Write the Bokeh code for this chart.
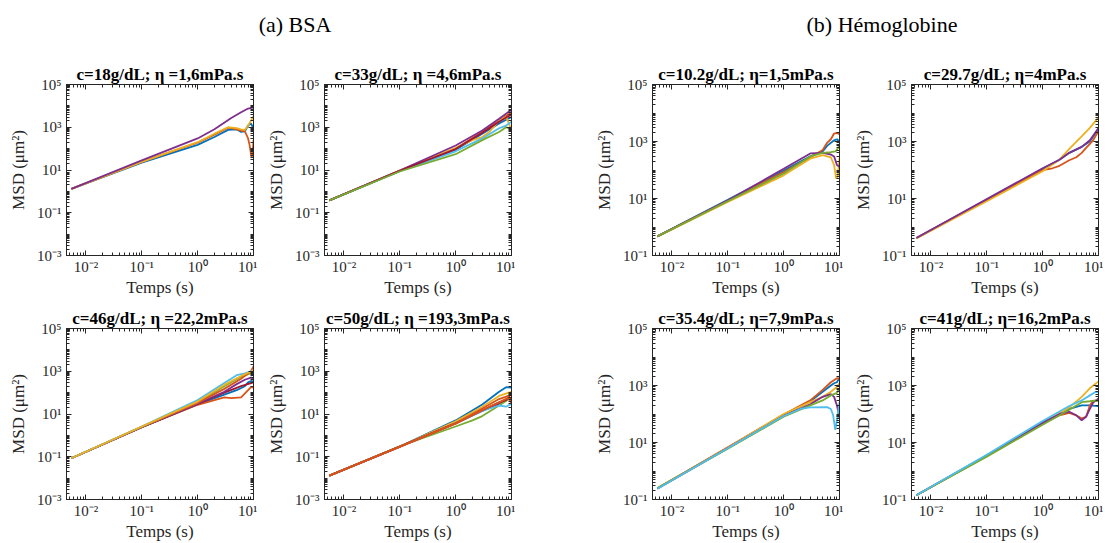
from bokeh.plotting import figure
from bokeh.layouts import column, row
from bokeh.models import Div, FixedTicker, LogAxis, CustomJSTickFormatter, Range1d
from bokeh.embed import file_html
from bokeh.resources import INLINE

# ---------------- data ----------------
COLORS = dict(blue="#0072BD", orange="#D95319", yellow="#EDB120", purple="#7E2F8E",
              green="#77AC30", cyan="#4DBEEE", red="#A2142F")

T0 = 0.0055  # first lag time (s)

header_left = "(a) BSA"
header_right = "(b) Hémoglobine"

titles = {
    "bsa18": "c=18g/dL; η =1,6mPa.s",
    "bsa33": "c=33g/dL; η =4,6mPa.s",
    "bsa46": "c=46g/dL; η =22,2mPa.s",
    "bsa50": "c=50g/dL; η =193,3mPa.s",
    "hb10": "c=10.2g/dL; η=1,5mPa.s",
    "hb29": "c=29.7g/dL; η=4mPa.s",
    "hb35": "c=35.4g/dL; η=7,9mPa.s",
    "hb41": "c=41g/dL; η=16,2mPa.s",
}

x_label = "Temps (s)"
y_label = "MSD (μm²)"

X_MAJOR = [1e-2, 1e-1, 1e0, 1e1]
Y_MAJOR_BSA = [1e-3, 1e-1, 1e1, 1e3, 1e5]
Y_MAJOR_HB = [1e-1, 1e1, 1e3, 1e5]

# BSA c=18 g/dL
bsa18 = [
    ("blue",   [T0, 0.1, 1, 2, 3.5, 5, 6, 7, 8, 9, 10],
               [1.3, 22, 150, 350, 750, 800, 600, 650, 1200, 1500, 900]),
    ("orange", [T0, 0.1, 1, 2, 3.5, 5, 6, 7, 8, 8.5, 9.2, 9.6, 10],
               [1.3, 24, 190, 450, 950, 800, 700, 650, 300, 150, 40, 50, 250]),
    ("yellow", [T0, 0.1, 1, 2, 3.5, 5, 6, 7, 8, 9, 10],
               [1.3, 24, 200, 500, 1000, 900, 800, 750, 1200, 2000, 3300]),
    ("purple", [T0, 0.1, 1, 2, 4, 6, 8, 10],
               [1.3, 28, 300, 800, 2700, 5000, 7500, 8500]),
]

# BSA c=33 g/dL
bsa33 = [
    ("blue",   [T0, 0.1, 1, 3, 6, 10], [0.38, 9, 90, 500, 1500, 3000]),
    ("orange", [T0, 0.1, 1, 3, 6, 10], [0.38, 9.3, 100, 600, 2000, 5000]),
    ("yellow", [T0, 0.1, 1, 2, 3, 4, 6, 8, 9, 10],
               [0.38, 9.5, 110, 250, 350, 600, 2000, 3000, 1500, 700]),
    ("purple", [T0, 0.1, 1, 3, 6, 10], [0.38, 9.5, 140, 700, 2500, 6500]),
    ("cyan",   [T0, 0.1, 1, 3, 6, 8, 10], [0.38, 8.8, 75, 300, 900, 1200, 1800]),
    ("red",    [T0, 0.1, 1, 3, 6, 10], [0.38, 9.2, 95, 550, 1800, 4000]),
    ("green",  [T0, 0.1, 1, 3, 6, 8, 10], [0.38, 8.5, 55, 250, 600, 1000, 800]),
]

# BSA c=46 g/dL
bsa46 = [
    ("blue",   [T0, 0.1, 1, 3, 5, 7, 8, 9, 10], [0.085, 2.4, 28, 80, 130, 200, 300, 350, 330]),
    ("orange", [T0, 0.1, 1, 2, 3, 4, 6, 8, 9, 10], [0.085, 2.4, 27, 45, 60, 55, 60, 130, 180, 170]),
    ("red",    [T0, 0.1, 1, 3, 6, 10], [0.085, 2.4, 30, 100, 200, 300]),
    ("purple", [T0, 0.1, 1, 3, 5, 7, 9, 10], [0.085, 2.4, 30, 110, 250, 400, 500, 450]),
    ("green",  [T0, 0.1, 1, 3, 6, 10], [0.085, 2.5, 35, 200, 550, 900]),
    ("orange", [T0, 0.1, 1, 3, 6, 9, 10], [0.085, 2.5, 33, 150, 450, 1000, 1700]),
    ("cyan",   [T0, 0.1, 1, 3, 5, 7, 10], [0.085, 2.6, 45, 280, 650, 800, 1100]),
    ("yellow", [T0, 0.1, 1, 3, 6, 10], [0.085, 2.6, 38, 230, 600, 1100]),
]

# BSA c=50 g/dL
bsa50 = [
    ("blue",   [T0, 0.1, 1, 3, 6, 8, 10], [0.013, 0.3, 5, 28, 110, 180, 170]),
    ("yellow", [T0, 0.1, 1, 3, 6, 10], [0.013, 0.3, 4.5, 22, 70, 110]),
    ("purple", [T0, 0.1, 1, 3, 6, 9, 10], [0.013, 0.3, 3.8, 14, 30, 50, 45]),
    ("green",  [T0, 0.1, 1, 2, 3, 6, 9, 10], [0.013, 0.31, 2.6, 5, 8, 25, 50, 60]),
    ("cyan",   [T0, 0.1, 1, 3, 6, 8, 10], [0.013, 0.3, 3.5, 14, 25, 22, 30]),
    ("red",    [T0, 0.1, 1, 3, 6, 8, 9, 10], [0.013, 0.3, 3.6, 15, 35, 45, 65, 50]),
    ("orange", [T0, 0.1, 1, 3, 6, 9, 10], [0.013, 0.29, 3.5, 15, 35, 60, 30]),
    ("orange", [T0, 0.1, 1, 3, 6, 10], [0.013, 0.3, 3.7, 18, 50, 80]),
]

# Hemoglobin c=10.2 g/dL
hb10 = [
    ("blue",   [T0, 0.1, 1, 3, 5, 6, 8, 9, 10], [0.47, 9, 95, 300, 450, 700, 1100, 1200, 1000]),
    ("orange", [T0, 0.1, 1, 3, 5, 6, 7, 8, 9, 10], [0.47, 8.5, 85, 280, 500, 900, 1200, 1900, 2000, 1800]),
    ("yellow", [T0, 0.1, 1, 3, 5, 7, 8, 8.7, 9.3, 10], [0.46, 7.5, 65, 250, 330, 280, 150, 50, 60, 260]),
    ("purple", [T0, 0.1, 1, 3, 5, 7, 8, 9, 10], [0.47, 8.5, 110, 380, 400, 350, 300, 150, 130]),
    ("green",  [T0, 0.1, 1, 3, 5, 7, 8.5, 9.5, 10], [0.47, 8, 75, 300, 400, 420, 450, 600, 800]),
]

# Hemoglobin c=29.7 g/dL
hb29 = [
    ("blue",   [T0, 0.1, 1, 2, 3, 5, 7, 10], [0.41, 9, 110, 230, 400, 650, 1000, 2800]),
    ("orange", [T0, 0.1, 1, 1.5, 2, 3, 4, 5, 6, 8, 10],
               [0.41, 9, 100, 115, 140, 220, 280, 400, 600, 1100, 2300]),
    ("yellow", [T0, 0.1, 1, 2, 3, 5, 7, 10], [0.40, 8, 90, 230, 550, 1500, 3000, 7000]),
    ("purple", [T0, 0.1, 1, 2, 3, 5, 7, 10], [0.41, 9.5, 115, 230, 400, 650, 1100, 3000]),
]

# Hemoglobin c=35.4 g/dL
hb35 = [
    ("blue",   [T0, 0.1, 1, 3, 5, 7, 8, 9, 10], [0.25, 6.5, 90, 280, 600, 1000, 1200, 1300, 1900]),
    ("orange", [T0, 0.1, 1, 3, 5, 7, 9, 10], [0.25, 6.8, 95, 300, 700, 1300, 1800, 1700]),
    ("yellow", [T0, 0.1, 1, 3, 5, 7, 9, 10], [0.25, 6.5, 100, 260, 400, 600, 900, 1200]),
    ("purple", [T0, 0.1, 1, 3, 5, 7, 8, 9, 10], [0.24, 6.3, 85, 220, 400, 500, 400, 200, 70]),
    ("green",  [T0, 0.1, 1, 3, 5, 7, 9, 10], [0.25, 6, 80, 200, 300, 450, 550, 800]),
    ("cyan",   [T0, 0.1, 1, 2, 3, 6, 7, 7.7, 8.4, 9, 10],
               [0.24, 6.3, 85, 150, 170, 175, 150, 90, 28, 60, 260]),
]

# Hemoglobin c=41 g/dL
hb41 = [
    ("blue",   [T0, 0.1, 1, 3, 5, 7, 10], [0.14, 3.5, 50, 150, 200, 200, 190]),
    ("orange", [T0, 0.1, 1, 2, 3, 4, 5, 6, 7, 8, 10], [0.14, 3.4, 45, 90, 110, 90, 70, 80, 200, 280, 300]),
    ("yellow", [T0, 0.1, 1, 3, 5, 7, 10], [0.14, 3.3, 45, 170, 400, 800, 1400]),
    ("purple", [T0, 0.1, 1, 2, 3, 4, 5, 6, 7, 8, 10], [0.14, 3.5, 48, 100, 120, 90, 60, 80, 150, 250, 350]),
    ("green",  [T0, 0.1, 1, 3, 5, 7, 9, 10], [0.14, 3.2, 42, 140, 260, 280, 300, 280]),
    ("cyan",   [T0, 0.1, 1, 3, 5, 7, 9, 10], [0.14, 3.7, 57, 190, 300, 450, 600, 580]),
]

# ---------------- styling / layout ----------------
X_LO, X_HI = 0.0045, 10.0
Y_HI = 1e5
FONT = "Liberation Serif"
INK = "#262626"

SUP = {'-': '⁻', '0': '⁰', '1': '¹', '2': '²', '3': '³', '4': '⁴',
       '5': '⁵', '6': '⁶', '7': '⁷', '8': '⁸', '9': '⁹'}
sup_js = "{" + ",".join("'%s':'%s'" % (k, v) for k, v in SUP.items()) + "}"
pow_fmt_code = ("const m = " + sup_js + ";\n"
                "const e = Math.round(Math.log10(tick));\n"
                "return '10' + String(e).split('').map(c => m[c]).join('');")


def minor_list(lo_exp, hi_exp, lo, hi, majors):
    out = []
    for e in range(lo_exp, hi_exp + 1):
        for k in range(1, 10):
            v = k * 10.0 ** e
            if lo <= v <= hi and not any(abs(v - m) / m < 1e-9 for m in majors):
                out.append(v)
    return out


def style_axis(ax, labels=True, label_text=None):
    ax.axis_line_color = INK
    ax.major_tick_line_color = INK
    ax.minor_tick_line_color = INK
    ax.major_tick_in = 5
    ax.major_tick_out = 0
    ax.minor_tick_in = 3
    ax.minor_tick_out = 0
    if labels:
        ax.major_label_text_font = FONT
        ax.major_label_text_font_size = "15px"
        ax.major_label_text_color = INK
        ax.axis_label = label_text
        ax.axis_label_text_font = FONT
        ax.axis_label_text_font_size = "17px"
        ax.axis_label_text_font_style = "normal"
        ax.axis_label_text_color = INK


def make_panel(title, curves, y_lo, y_major, ml, mr, mt, mb):
    p = figure(x_axis_type="log", y_axis_type="log",
               x_range=Range1d(X_LO, X_HI), y_range=Range1d(y_lo, Y_HI),
               frame_width=187, frame_height=171,
               min_border_left=ml, min_border_right=mr,
               min_border_top=mt, min_border_bottom=mb,
               toolbar_location=None, output_backend="svg", title=title)
    for ckey, t, msd in curves:
        p.line(t, msd, line_color=COLORS[ckey], line_width=1.8)

    p.xgrid.visible = False
    p.ygrid.visible = False
    p.outline_line_color = INK
    p.outline_line_width = 1

    x_minor = minor_list(-3, 0, X_LO, X_HI, X_MAJOR)
    y_minor = minor_list(-3, 4, y_lo, Y_HI, y_major)

    xt = FixedTicker(ticks=X_MAJOR, minor_ticks=x_minor)
    yt = FixedTicker(ticks=y_major, minor_ticks=y_minor)
    fmt = CustomJSTickFormatter(code=pow_fmt_code)

    xa = p.xaxis[0]
    xa.ticker = xt
    xa.formatter = fmt
    style_axis(xa, True, x_label)
    xa.major_label_standoff = 3
    xa.axis_label_standoff = 0

    ya = p.yaxis[0]
    ya.ticker = yt
    ya.formatter = fmt
    style_axis(ya, True, y_label)
    ya.major_label_standoff = 5
    ya.axis_label_standoff = 6

    blank = CustomJSTickFormatter(code="return '';")
    for loc, tk in (("above", xt), ("right", yt)):
        ax = LogAxis(ticker=tk, formatter=blank, major_label_standoff=0,
                     major_label_text_font_size="1px")
        style_axis(ax, labels=False)
        p.add_layout(ax, loc)

    p.title.text_font = FONT
    p.title.text_font_style = "bold"
    p.title.text_font_size = "17px"
    p.title.text_color = "black"
    p.title.align = "center"
    p.title.standoff = 2
    return p


TOP_T, TOP_B = 38, 45
BOT_T, BOT_B = 28, 42

f1 = make_panel(titles["bsa18"], bsa18, 1e-3, Y_MAJOR_BSA, 66, 4, TOP_T, TOP_B)
f2 = make_panel(titles["bsa33"], bsa33, 1e-3, Y_MAJOR_BSA, 67, 4, TOP_T, TOP_B)
f5 = make_panel(titles["hb10"], hb10, 1e-1, Y_MAJOR_HB, 137, 4, TOP_T, TOP_B)
f6 = make_panel(titles["hb29"], hb29, 1e-1, Y_MAJOR_HB, 68, 5, TOP_T, TOP_B)

f3 = make_panel(titles["bsa46"], bsa46, 1e-3, Y_MAJOR_BSA, 66, 4, BOT_T, BOT_B)
f4 = make_panel(titles["bsa50"], bsa50, 1e-3, Y_MAJOR_BSA, 67, 4, BOT_T, BOT_B)
f7 = make_panel(titles["hb35"], hb35, 1e-1, Y_MAJOR_HB, 137, 4, BOT_T, BOT_B)
f8 = make_panel(titles["hb41"], hb41, 1e-1, Y_MAJOR_HB, 68, 5, BOT_T, BOT_B)

HEAD_H = 36
span = ("position:absolute;top:20px;transform:translate(-50%,-50%);white-space:nowrap;")
header = Div(
    text=("<div style=\"position:relative;width:1103px;height:%dpx;"
          "font-family:'Liberation Serif';font-size:22px;color:#000;\">" % HEAD_H +
          "<span style=\"" + span + "left:290px;\">" + header_left + "</span>"
          "<span style=\"" + span + "left:877px;\">" + header_right + "</span>"
          "</div>"),
    width=1103, height=HEAD_H)

layout = column(header, row(f1, f2, f5, f6), row(f3, f4, f7, f8))

open("out.html", "w").write(file_html(layout, INLINE))
